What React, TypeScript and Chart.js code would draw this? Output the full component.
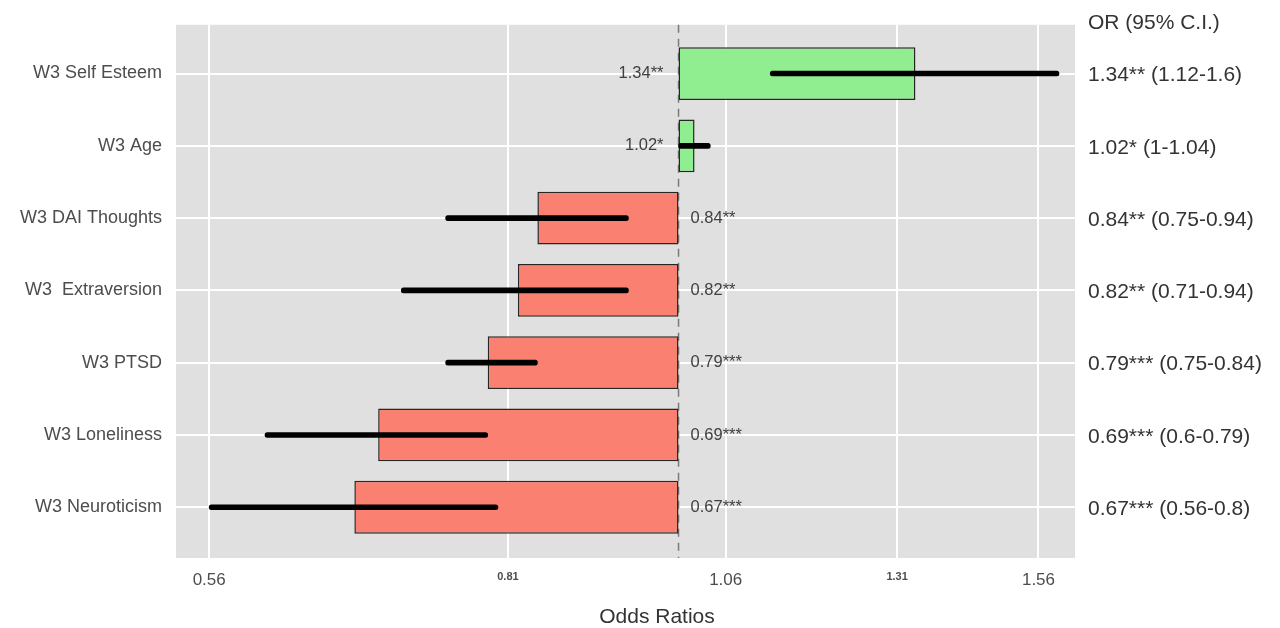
import React, { useEffect, useRef } from "react";
import { Chart, registerables } from "chart.js";

Chart.register(...registerables);

// Predictors, top to bottom
const categories = [
  "W3 Self Esteem",
  "W3 Age",
  "W3 DAI Thoughts",
  "W3  Extraversion",
  "W3 PTSD",
  "W3 Loneliness",
  "W3 Neuroticism",
];
const oddsRatios = [1.34, 1.02, 0.84, 0.82, 0.79, 0.69, 0.67];
const ciLower = [1.12, 1, 0.75, 0.71, 0.75, 0.6, 0.56];
const ciUpper = [1.6, 1.04, 0.94, 0.94, 0.84, 0.79, 0.8];
const significance = ["**", "*", "**", "**", "***", "***", "***"];
const xTickLabels = ["0.56", "0.81", "1.06", "1.31", "1.56"];

const FONT = '"Liberation Sans", Arial, sans-serif';
const REFERENCE_OR = 1;

const panelBackground = {
  id: "panelBackground",
  beforeDraw(chart: any) {
    const { ctx, chartArea } = chart;
    ctx.save();
    ctx.fillStyle = "#e0e0e0";
    ctx.fillRect(chartArea.left, chartArea.top, chartArea.right - chartArea.left, chartArea.bottom - chartArea.top);
    ctx.restore();
  },
};

const referenceLine = {
  id: "referenceLine",
  beforeDatasetsDraw(chart: any) {
    const { ctx, chartArea, scales } = chart;
    const x = scales.x.getPixelForValue(REFERENCE_OR);
    ctx.save();
    ctx.strokeStyle = "#7a7a7a";
    ctx.lineWidth = 1.5;
    ctx.setLineDash([8, 6]);
    ctx.beginPath();
    ctx.moveTo(x, chartArea.top);
    ctx.lineTo(x, chartArea.bottom);
    ctx.stroke();
    ctx.restore();
  },
};

const annotations = {
  id: "annotations",
  afterDraw(chart: any) {
    const { ctx, chartArea, scales } = chart;
    const x1 = scales.x.getPixelForValue(REFERENCE_OR);
    ctx.save();

    // value labels beside the reference line
    ctx.font = `16.5px ${FONT}`;
    ctx.fillStyle = "#404040";
    ctx.textBaseline = "middle";
    oddsRatios.forEach((v, i) => {
      const y = scales.y.getPixelForValue(i);
      const text = `${v}${significance[i]}`;
      if (v >= REFERENCE_OR) {
        ctx.textAlign = "right";
        ctx.fillText(text, x1 - 15, y);
      } else {
        ctx.textAlign = "left";
        ctx.fillText(text, x1 + 12, y);
      }
    });

    // OR (95% C.I.) column
    const colX = chartArea.right + 13;
    ctx.font = `21px ${FONT}`;
    ctx.fillStyle = "#333333";
    ctx.textAlign = "left";
    ctx.fillText("OR (95% C.I.)", colX, 23);
    oddsRatios.forEach((v, i) => {
      const y = scales.y.getPixelForValue(i) + 2;
      ctx.fillText(`${v}${significance[i]} (${ciLower[i]}-${ciUpper[i]})`, colX, y);
    });

    // axis title
    ctx.font = `21px ${FONT}`;
    ctx.fillStyle = "#333333";
    ctx.textAlign = "center";
    ctx.fillText("Odds Ratios", 657, 617);
    ctx.restore();
  },
};

export default function App() {
  const canvasRef = useRef<HTMLCanvasElement>(null);

  useEffect(() => {
    const canvas = canvasRef.current;
    if (!canvas) return;
    Chart.defaults.font.family = FONT;

    const chart = new Chart(canvas, {
      type: "bar",
      data: {
        datasets: [
          {
            label: "OR",
            data: oddsRatios.map((v, i) => ({ x: [REFERENCE_OR, v], y: i })) as any,
            backgroundColor: oddsRatios.map((v) => (v >= REFERENCE_OR ? "#90ee90" : "#fa8072")),
            borderColor: "#262626",
            borderWidth: 1.5,
            borderSkipped: false,
            grouped: false,
            categoryPercentage: 1,
            barPercentage: 0.73,
            order: 1,
          },
          {
            label: "95% C.I.",
            data: ciLower.map((lo, i) => ({ x: [lo, ciUpper[i]], y: i })) as any,
            backgroundColor: "#000000",
            borderWidth: 0,
            borderSkipped: false,
            borderRadius: 2.5,
            barThickness: 5,
            grouped: false,
            order: 0,
          },
        ],
      },
      options: {
        responsive: false,
        animation: false,
        indexAxis: "y",
        layout: { padding: { top: 21, right: 205, left: 0, bottom: 0 } },
        plugins: {
          legend: { display: false },
          tooltip: { enabled: false },
        },
        scales: {
          x: {
            type: "logarithmic",
            min: 0.5375,
            max: 1.632,
            bounds: "data",
            grid: { color: "#ffffff", lineWidth: 2, drawTicks: false },
            border: { display: false },
            ticks: {
              padding: 12,
              color: "#4d4d4d",
              autoSkip: false,
              maxRotation: 0,
              font: (ctx: any) =>
                ctx.index % 2 === 1 ? { size: 11, weight: "bold" } : { size: 17 },
              callback: (_v: any, i: number) => xTickLabels[i],
            },
            afterBuildTicks: (scale: any) => {
              scale.ticks = xTickLabels.map((s) => ({ value: parseFloat(s) }));
            },
            afterFit: (scale: any) => {
              scale.height = 70;
            },
          },
          y: {
            type: "linear",
            reverse: true,
            min: -0.674,
            max: 6.702,
            bounds: "data",
            offset: false,
            grid: { color: "#ffffff", lineWidth: 2, drawTicks: false, offset: false },
            border: { display: false },
            ticks: {
              padding: 14,
              color: "#4d4d4d",
              autoSkip: false,
              font: { size: 18 },
              callback: (v: any) => categories[Math.round(Number(v))],
            },
            afterBuildTicks: (scale: any) => {
              scale.ticks = categories.map((_, i) => ({ value: i }));
            },
            afterFit: (scale: any) => {
              scale.width = 176;
            },
          },
        },
      } as any,
      plugins: [panelBackground, referenceLine, annotations],
    });

    return () => chart.destroy();
  }, []);

  return (
    <div style={{ position: "absolute", left: 0, top: 0, width: 1280, height: 628, background: "#ffffff" }}>
      <canvas ref={canvasRef} width={1280} height={628} style={{ display: "block" }} />
    </div>
  );
}
